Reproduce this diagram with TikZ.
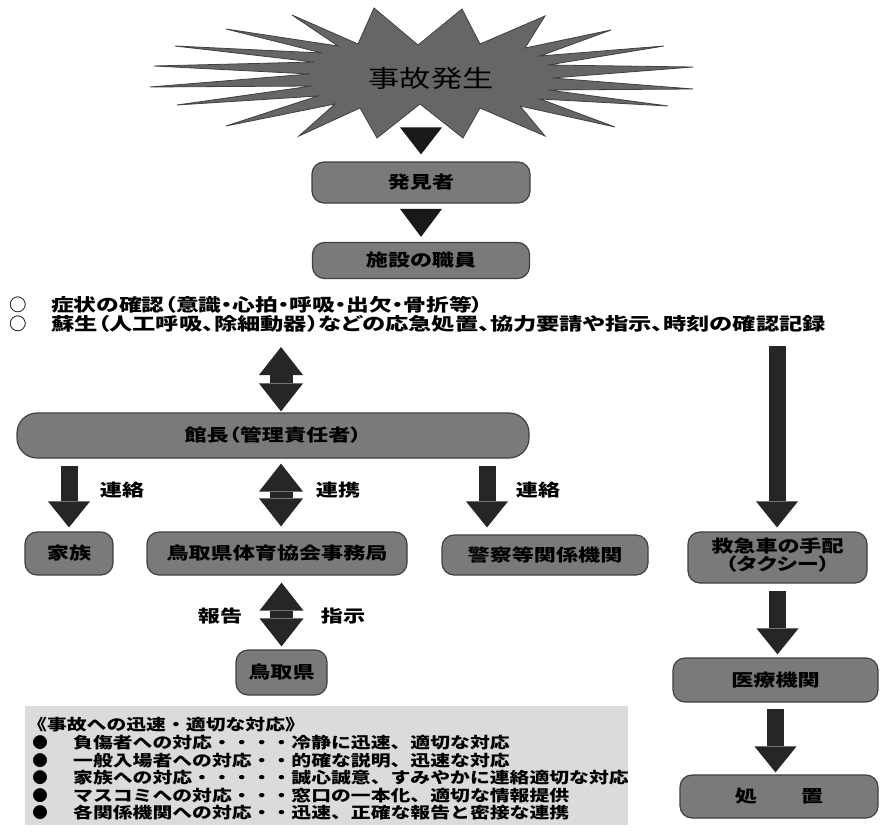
\documentclass[tikz,border=0pt]{standalone}
\usepackage{fontspec}
\usepackage{graphicx}
\setmainfont{Noto Sans CJK JP}[RawFeature=+palt]
\newfontfamily\jpfull{Noto Sans CJK JP}
\usetikzlibrary{arrows.meta,calc}
\newcommand\hx[1]{\scalebox{1.3}[1]{#1}}
\newcommand\hxb[1]{\scalebox{1.28}[1]{#1}}
\tikzset{
  box/.style={draw=black!75, line width=1.2pt, fill=black!52, rounded corners=12pt, inner sep=0pt,
    font=\fontsize{17}{20}\selectfont\bfseries, text=black},
  lbl/.style={inner sep=0pt, font=\fontsize{17}{20}\selectfont\bfseries},
  topline/.style={inner sep=0pt, anchor=west, font=\fontsize{17.5}{20}\selectfont\bfseries},
  btxt/.style={inner sep=0pt, anchor=west, font=\jpfull\fontsize{15.5}{17}\selectfont\bfseries},
  sarr/.style={draw=black!85, line width=17pt, -{Triangle[width=42pt,length=26pt,line width=0pt]}},
  dbarr/.style={draw=black!85, line width=23pt,
    {Triangle[width=44pt,length=28pt,line width=0pt]}-{Triangle[width=44pt,length=28pt,line width=0pt]}},
  tri/.style={fill=black!90},
  burst/.style={fill=black!60, draw=black!75, line width=0.8pt, line join=miter},
}
\begin{document}
\begin{tikzpicture}[x=1pt,y=-1pt]
\useasboundingbox[fill=white] (0,0) rectangle (882,832);

% starburst
\path[burst] (374,8) -- (418,45) -- (462,9) -- (480,44) -- (545,16) -- (525,48) -- (611,30) -- (540,56)
  -- (664,46) -- (548,65) -- (693,67) -- (552,78) -- (693,89) -- (548,90) -- (668,106) -- (540,99)
  -- (615,127) -- (520,106) -- (545,136) -- (480,108) -- (463,138) -- (420,104) -- (377,138) -- (360,108)
  -- (299,136) -- (335,104) -- (226,126) -- (318,96) -- (177,105) -- (312,86) -- (150,87) -- (310,74)
  -- (154,66) -- (314,62) -- (175,46) -- (322,53) -- (226,29) -- (338,46) -- (292,15) -- (358,44) -- cycle;
\node[inner sep=0pt, font=\fontsize{24}{26}\selectfont] (jiko) at (431,78) {\hx{事故発生}};

% main column
\node[box, minimum width=218pt, minimum height=41pt] (hakken) at (421,182.5) {\hx{発見者}};
\node[box, minimum width=217pt, minimum height=36pt] (shisetsu) at (421,260.5) {\hx{施設の職員}};
\fill[tri] ($(hakken.north)+(-21,-34)$) -- ($(hakken.north)+(21,-34)$) -- ($(hakken.north)+(0,-7)$) -- cycle;
\fill[tri] ($(shisetsu.north)+(-21,-33)$) -- ($(shisetsu.north)+(21,-33)$) -- ($(shisetsu.north)+(0,-5)$) -- cycle;

% text lines
\node[topline, anchor=center] (c1) at (18,305) {○};
\node[topline, anchor=center] (c2) at (18,324) {○};
\node[topline] (line1) at (51,305) {\hx{症状の確認（意識・心拍・呼吸・出欠・骨折等）}};
\node[topline] (line2) at (51,324) {\scalebox{1.33}[1]{蘇生（人工呼吸、除細動器）などの応急処置、協力要請や指示、時刻の確認記録}};

% manager
\node[box, rounded corners=20pt, minimum width=512pt, minimum height=45pt] (kancho) at (273,435.5) {\hx{館長（管理責任者）}};
\coordinate (dtop) at (281,347);
\draw[dbarr, shorten >=1pt] (dtop) -- (dtop |- kancho.north);

% second row
\node[box, minimum width=88pt, minimum height=43pt] (kazoku) at (69,553.5) {\hx{家族}};
\node[box, minimum width=260pt, minimum height=43pt] (taikyo) at (277,553.5) {\hx{鳥取県体育協会事務局}};
\node[box, minimum width=206pt, minimum height=40pt] (keisatsu) at (545,555) {\hx{警察等関係機関}};
\node[box, minimum width=179pt, minimum height=51pt, align=center] (kyukyu) at (777.5,557.5)
  {\hx{\begin{tabular}{@{}c@{}}救急車の手配\\[-3pt]（タクシー）\end{tabular}}};
\node[box, minimum width=91pt, minimum height=45pt] (tottori) at (281.5,672.5) {\hx{鳥取県}};
\node[box, minimum width=205pt, minimum height=44pt] (iryo) at (775.5,680) {\hx{医療機関}};
\node[box, minimum width=198pt, minimum height=43pt] (shochi) at (779,796.5) {\hx{処　　置}};

\coordinate (tk) at ($(taikyo.north)+(4,0)$);
\coordinate (kp) at ($(keisatsu.north)+(-58,0)$);
\coordinate (rtop) at (777,346);

\draw[sarr, shorten <=7pt, shorten >=4pt] (kazoku.north |- kancho.south) -- (kazoku.north);
\draw[dbarr, shorten <=5pt, shorten >=5pt] (tk |- kancho.south) -- (tk);
\draw[sarr, shorten <=7pt, shorten >=7pt] (kp |- kancho.south) -- (kp);
\draw[dbarr, shorten <=7pt, shorten >=3pt] (tottori.north |- taikyo.south) -- (tottori.north);
\draw[sarr, shorten >=4pt] (rtop) -- (rtop |- kyukyu.north);
\draw[sarr, shorten <=7pt, shorten >=3pt] (kyukyu.south) -- (kyukyu.south |- iryo.north);
\draw[sarr, shorten <=6pt, shorten >=2pt] (iryo.south) -- (iryo.south |- shochi.north);

\node[lbl] (l1) at (122,490) {\hx{連絡}};
\node[lbl] (l2) at (338,490) {\hx{連携}};
\node[lbl] (l3) at (538,490) {\hx{連絡}};
\node[lbl] (l4) at (220,616) {\hx{報告}};
\node[lbl] (l5) at (343,616) {\hx{指示}};

% bottom panel
\fill[black!14] (25,706) rectangle (628,825);
\node[btxt] (title) at (27,725) {\hxb{《事故への迅速・適切な対応》}};
\foreach \i/\t in {1/{負傷者への対応・・・・冷静に迅速、適切な対応},
                   2/{一般入場者への対応・・的確な説明、迅速な対応},
                   3/{家族への対応・・・・・誠心誠意、すみやかに連絡適切な対応},
                   4/{マスコミへの対応・・・窓口の一本化、適切な情報提供},
                   5/{各関係機関への対応・・迅速、正確な報告と密接な連携}} {
  \node[btxt, anchor=center] (bul\i) at (40,{725+17.6*\i}) {●};
  \node[btxt] (item\i) at (73,{725+17.6*\i}) {\hxb{\t}};
}
\end{tikzpicture}
\end{document}
